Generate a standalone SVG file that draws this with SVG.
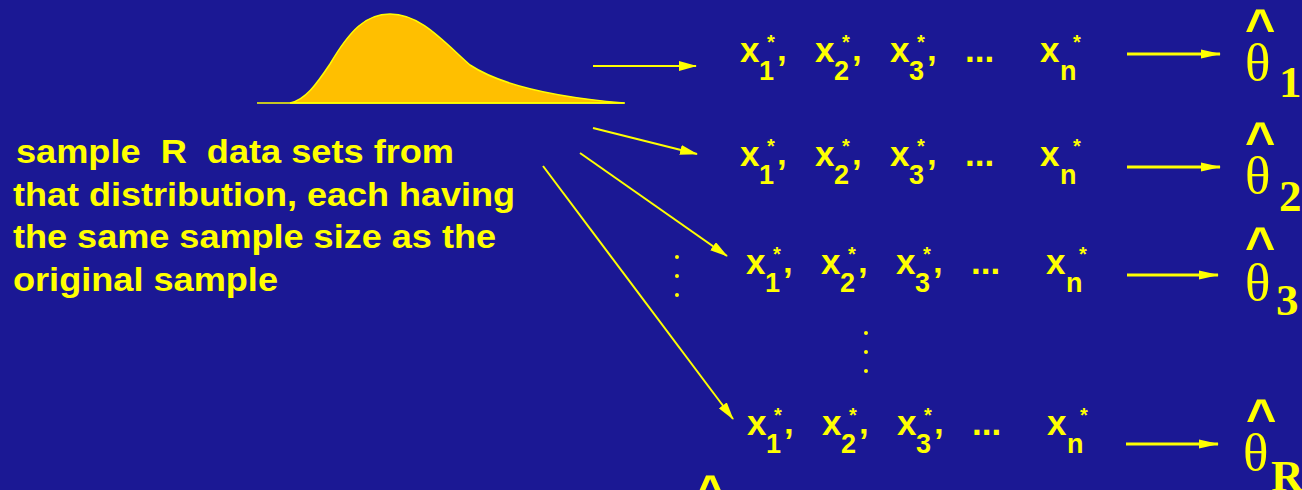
<svg xmlns="http://www.w3.org/2000/svg" width="1302" height="490" viewBox="0 0 1302 490">
<style>
.t{fill:#ffff00;font-family:"Liberation Sans",Arial,sans-serif;font-weight:bold}
.x{font-size:35px}
.s{font-size:27px}
.a{font-size:20px}
.lab{font-size:33px}
.th{fill:#ffff00;font-family:"Liberation Serif","Times New Roman",serif;font-size:53px}
.ts{fill:#ffff00;font-family:"Liberation Serif","Times New Roman",serif;font-size:45px;font-weight:bold}
.hat{fill:#ffff00;font-family:"Liberation Sans",Arial,sans-serif;font-size:52px;font-weight:bold}
.thin{stroke:#ffff00;stroke-width:2;fill:none}
.thick{stroke:#ffff00;stroke-width:3;fill:none}
.dot{fill:#ffff00}
</style>
<defs>
<marker id="ah" markerUnits="userSpaceOnUse" markerWidth="18" markerHeight="10" refX="17" refY="5" orient="auto">
<path d="M0,0 L18,5 L0,10 z" fill="#ffff00"/>
</marker>
<marker id="ah2" markerUnits="userSpaceOnUse" markerWidth="20" markerHeight="10" refX="19" refY="5" orient="auto">
<path d="M0,0.5 L20,5 L0,9.5 z" fill="#ffff00"/>
</marker>
</defs>
<rect x="0" y="0" width="1302" height="490" fill="#1b1894"/>

<g id="distribution">
<path d="M290,103 C305,100 316,85 330,64 C350,30 366,14 390,14 C420,14 442,40 470,65 C505,88 565,98 624,103 Z" fill="#ffbf00" stroke="#ffff00" stroke-width="1.5"/>
<line x1="257" y1="103" x2="625" y2="103" stroke="#ffff00" stroke-width="1.5"/>
</g>

<g id="description" class="t lab">
<text x="16" y="163" textLength="438" lengthAdjust="spacingAndGlyphs" xml:space="preserve">sample  R  data sets from</text>
<text x="13" y="206" textLength="502" lengthAdjust="spacingAndGlyphs">that distribution, each having</text>
<text x="13" y="248" textLength="483" lengthAdjust="spacingAndGlyphs">the same sample size as the</text>
<text x="13" y="291" textLength="265" lengthAdjust="spacingAndGlyphs">original sample</text>
</g>

<g id="connectors">
<line class="thin" x1="593" y1="66" x2="696" y2="66" marker-end="url(#ah)"/>
<line class="thin" x1="593" y1="128" x2="697" y2="154" marker-end="url(#ah)"/>
<line class="thin" x1="580" y1="153" x2="727" y2="256" marker-end="url(#ah)"/>
<line class="thin" x1="543" y1="166" x2="733" y2="419" marker-end="url(#ah)"/>
<line class="thick" x1="1127" y1="54" x2="1220" y2="54" marker-end="url(#ah2)"/>
<line class="thick" x1="1127" y1="167" x2="1220" y2="167" marker-end="url(#ah2)"/>
<line class="thick" x1="1127" y1="275" x2="1218" y2="275" marker-end="url(#ah2)"/>
<line class="thick" x1="1126" y1="444" x2="1218" y2="444" marker-end="url(#ah2)"/>
</g>

<g id="vdots1" class="dot">
<circle cx="677" cy="257" r="2"/><circle cx="677" cy="276" r="2"/><circle cx="677" cy="295" r="2"/>
</g>
<g id="vdots2" class="dot">
<circle cx="866" cy="333" r="2"/><circle cx="866" cy="352" r="2"/><circle cx="866" cy="371" r="2"/>
</g>

<g id="row1" class="t" transform="translate(740,62)">
<text class="x" x="0" y="0">x</text><text class="s" x="19" y="18">1</text><text class="x" x="37" y="18">’</text><text class="a" x="27" y="-13">*</text>
<text class="x" x="75" y="0">x</text><text class="s" x="94" y="18">2</text><text class="x" x="112" y="18">’</text><text class="a" x="102" y="-13">*</text>
<text class="x" x="150" y="0">x</text><text class="s" x="169" y="18">3</text><text class="x" x="187" y="18">’</text><text class="a" x="177" y="-13">*</text>
<text class="x" x="225" y="0">...</text>
<text class="x" x="300" y="0">x</text><text class="s" x="320" y="18">n</text><text class="a" x="333" y="-13">*</text>
</g>
<g id="row2" class="t" transform="translate(740,166)">
<text class="x" x="0" y="0">x</text><text class="s" x="19" y="18">1</text><text class="x" x="37" y="18">’</text><text class="a" x="27" y="-13">*</text>
<text class="x" x="75" y="0">x</text><text class="s" x="94" y="18">2</text><text class="x" x="112" y="18">’</text><text class="a" x="102" y="-13">*</text>
<text class="x" x="150" y="0">x</text><text class="s" x="169" y="18">3</text><text class="x" x="187" y="18">’</text><text class="a" x="177" y="-13">*</text>
<text class="x" x="225" y="0">...</text>
<text class="x" x="300" y="0">x</text><text class="s" x="320" y="18">n</text><text class="a" x="333" y="-13">*</text>
</g>
<g id="row3" class="t" transform="translate(746,274)">
<text class="x" x="0" y="0">x</text><text class="s" x="19" y="18">1</text><text class="x" x="37" y="18">’</text><text class="a" x="27" y="-13">*</text>
<text class="x" x="75" y="0">x</text><text class="s" x="94" y="18">2</text><text class="x" x="112" y="18">’</text><text class="a" x="102" y="-13">*</text>
<text class="x" x="150" y="0">x</text><text class="s" x="169" y="18">3</text><text class="x" x="187" y="18">’</text><text class="a" x="177" y="-13">*</text>
<text class="x" x="225" y="0">...</text>
<text class="x" x="300" y="0">x</text><text class="s" x="320" y="18">n</text><text class="a" x="333" y="-13">*</text>
</g>
<g id="rowR" class="t" transform="translate(747,435)">
<text class="x" x="0" y="0">x</text><text class="s" x="19" y="18">1</text><text class="x" x="37" y="18">’</text><text class="a" x="27" y="-13">*</text>
<text class="x" x="75" y="0">x</text><text class="s" x="94" y="18">2</text><text class="x" x="112" y="18">’</text><text class="a" x="102" y="-13">*</text>
<text class="x" x="150" y="0">x</text><text class="s" x="169" y="18">3</text><text class="x" x="187" y="18">’</text><text class="a" x="177" y="-13">*</text>
<text class="x" x="225" y="0">...</text>
<text class="x" x="300" y="0">x</text><text class="s" x="320" y="18">n</text><text class="a" x="333" y="-13">*</text>
</g>

<g id="theta1">
<text class="hat" x="1245" y="45">^</text>
<text class="th" x="1245" y="80">θ</text>
<text class="ts" x="1279" y="97">1</text>
</g>
<g id="theta2">
<text class="hat" x="1245" y="158">^</text>
<text class="th" x="1245" y="193">θ</text>
<text class="ts" x="1279" y="211">2</text>
</g>
<g id="theta3">
<text class="hat" x="1245" y="263">^</text>
<text class="th" x="1245" y="300">θ</text>
<text class="ts" x="1276" y="315">3</text>
</g>
<g id="thetaR">
<text class="hat" x="1246" y="435">^</text>
<text class="th" x="1243" y="470">θ</text>
<text class="ts" x="1271" y="491">R</text>
</g>
<g id="hat-bottom">
<text class="hat" x="695" y="511">^</text>
</g>
</svg>
